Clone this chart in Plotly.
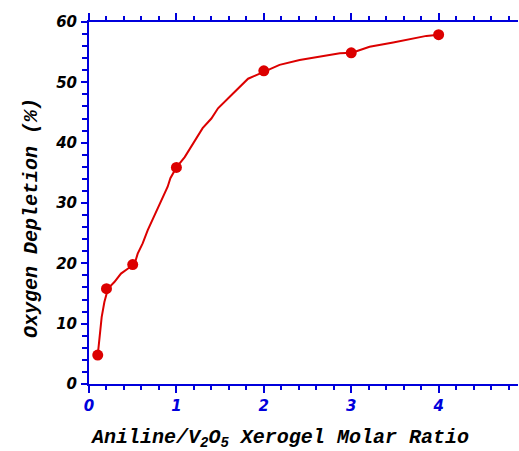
import plotly.graph_objects as go

# Measured data points (markers)
ratio_pts = [0.1, 0.2, 0.5, 1.0, 2.0, 3.0, 4.0]
depletion_pts = [4.8, 15.8, 19.8, 35.9, 51.9, 54.9, 57.9]

# Traced curve through the points
curve_x = [0.10, 0.12, 0.145, 0.176, 0.217, 0.29, 0.366, 0.443, 0.519, 0.557, 0.614,
           0.672, 0.767, 0.843, 0.90, 0.931, 1.0, 1.095, 1.21, 1.30, 1.40, 1.476,
           1.61, 1.74, 1.82, 1.915, 2.02, 2.18, 2.41, 2.64, 2.87, 3.01, 3.21,
           3.48, 3.67, 3.86, 4.0]
curve_y = [4.8, 7.8, 11.1, 13.6, 15.8, 16.9, 18.3, 19.1, 19.8, 21.6, 23.3,
           25.5, 28.5, 30.7, 32.7, 34.1, 35.9, 37.6, 40.4, 42.4, 44.0, 45.7,
           47.6, 49.5, 50.6, 51.2, 51.9, 52.9, 53.7, 54.2, 54.8, 54.9, 55.9,
           56.6, 57.2, 57.7, 57.9]

x_title = "Aniline/V<sub>2</sub>O<sub>5</sub> Xerogel Molar Ratio"
y_title = "Oxygen Depletion (%)"

red = "rgb(220,0,0)"
blue = "rgb(0,0,220)"

fig = go.Figure()
fig.add_trace(go.Scatter(x=curve_x, y=curve_y, mode="lines",
                         line=dict(color=red, width=2), hoverinfo="skip"))
fig.add_trace(go.Scatter(x=ratio_pts, y=depletion_pts, mode="markers",
                         marker=dict(color=red, size=11)))

tickfont_y = dict(family="DejaVu Sans", size=15, color="black", weight="bold", style="italic")
tickfont_x = dict(family="DejaVu Sans", size=15, color=blue, weight="bold", style="italic")
titlefont = dict(family="Liberation Mono", size=20, color="black", weight="bold", style="italic")

fig.update_layout(
    width=519, height=451,
    margin=dict(l=89, r=1, t=22, b=67),
    paper_bgcolor="white", plot_bgcolor="white",
    showlegend=False,
    xaxis=dict(
        range=[0, 4.908], dtick=1, tick0=0,
        showgrid=False, zeroline=False,
        showline=True, linecolor=blue, linewidth=2,
        ticks="outside", ticklen=7, tickwidth=2, tickcolor=blue,
        mirror="ticks",
        minor=dict(dtick=0.2, ticks="outside", ticklen=4, tickwidth=2, tickcolor=blue, showgrid=False),
        tickfont=tickfont_x, ticklabelstandoff=0,
    ),
    yaxis=dict(
        range=[0, 60], dtick=10, tick0=0,
        showgrid=False, zeroline=False,
        showline=True, linecolor=blue, linewidth=2,
        ticks="outside", ticklen=6, tickwidth=2, tickcolor=blue,
        minor=dict(dtick=2, ticks="outside", ticklen=5, tickwidth=2, tickcolor=blue, showgrid=False),
        tickfont=tickfont_y, ticklabelstandoff=1,
    ),
    annotations=[
        dict(text=x_title, xref="paper", yref="paper", x=-0.002, y=-0.15,
             xanchor="left", yanchor="middle", showarrow=False, font=titlefont),
        dict(text=y_title, xref="paper", yref="paper", x=-0.133, y=0.4586,
             xanchor="center", yanchor="middle", textangle=-90, showarrow=False, font=titlefont),
    ],
)

fig.write_html("out.html")
